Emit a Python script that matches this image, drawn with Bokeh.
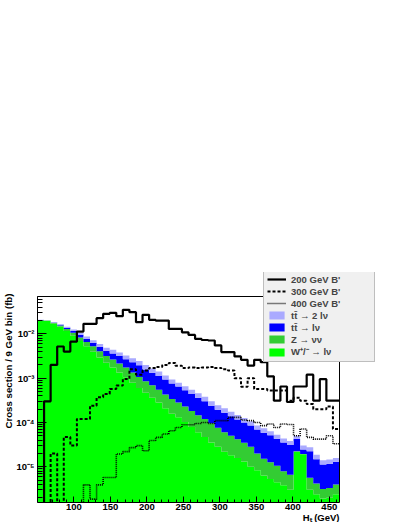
import math
import numpy as np
from bokeh.plotting import figure
from bokeh.models import (Range1d, FixedTicker, CustomJSTickFormatter, Legend,
                          LegendItem, Title)
from bokeh.embed import file_html
from bokeh.resources import INLINE

# ---------------- data ----------------
bin_low = 50.0
bin_width = 9.0          # GeV
n_bins = 46

# signal histograms (fb / 9 GeV bin)
sig_200 = [0, 3.0e-4, 2.0e-3, 5.2e-3, 4.0e-3, 6.7e-3, 1.13e-2, 1.69e-2, 1.69e-2, 2.27e-2,
           2.84e-2, 3.0e-2, 2.52e-2, 3.5e-2, 3.1e-2, 1.84e-2, 2.7e-2, 2.08e-2, 2.0e-2, 2.0e-2,
           1.30e-2, 1.30e-2, 1.09e-2, 9.5e-3, 7.7e-3, 7.3e-3, 7.1e-3, 5.5e-3, 3.9e-3, 3.9e-3,
           3.1e-3, 2.6e-3, 1.93e-3, 2.6e-3, 2.3e-3, 1.1e-3, 3.1e-4, 6.5e-4, 2.9e-4, 6.5e-4,
           6.5e-4, 1.2e-3, 3.1e-4, 9.5e-4, 3.1e-4, 3.1e-4]
sig_300 = [0, 0, 2.0e-5, 0, 4.7e-5, 3.0e-5, 1.2e-4, 1.2e-4, 2.4e-4, 3.7e-4,
           4.4e-4, 5.7e-4, 6.8e-4, 9.6e-4, 1.6e-3, 1.2e-3, 1.5e-3, 1.7e-3, 1.8e-3, 2.0e-3,
           2.2e-3, 1.9e-3, 1.7e-3, 1.75e-3, 1.7e-3, 1.75e-3, 1.8e-3, 1.7e-3, 1.6e-3, 1.5e-3,
           1.0e-3, 6.4e-4, 1.0e-3, 5.7e-4, 5.7e-4, 5.3e-4, 5.3e-4, 5.3e-4, 3.1e-4, 3.6e-4,
           3.1e-4, 2.6e-4, 2.0e-4, 2.0e-4, 2.3e-4, 7.1e-5]
sig_400 = [0, 0, 0, 0, 0, 0, 0, 3.9e-6, 1.85e-6, 3.9e-6,
           5.7e-6, 5.7e-6, 1.94e-5, 2.2e-5, 2.7e-5, 3.0e-5, 2.3e-5, 3.9e-5, 4.6e-5, 5.5e-5,
           6.5e-5, 7.7e-5, 8.9e-5, 8.9e-5, 9.5e-5, 1.0e-4, 9.5e-5, 1.1e-4, 1.1e-4, 1.3e-4,
           1.3e-4, 1.14e-4, 1.1e-4, 1.0e-4, 8.5e-5, 9.2e-5, 7.7e-5, 9.2e-5, 9.0e-5, 5.0e-5,
           7.1e-5, 4.6e-5, 4.2e-5, 4.2e-5, 5.0e-5, 3.3e-5]

# stacked backgrounds: cumulative height of the stack after each component
stack_top_w = [2.00e-2, 1.95e-2, 1.70e-2, 1.45e-2, 1.17e-2, 9.12e-3, 6.92e-3, 5.25e-3, 3.98e-3, 2.95e-3,
               2.24e-3, 1.74e-3, 1.35e-3, 1.05e-3, 7.94e-4, 6.03e-4, 4.68e-4, 3.63e-4, 2.82e-4, 2.09e-4,
               1.58e-4, 1.32e-4, 1.02e-4, 7.94e-5, 6.03e-5, 4.68e-5, 3.55e-5, 2.82e-5, 2.19e-5, 1.82e-5,
               1.58e-5, 1.32e-5, 1.00e-5, 8.32e-6, 6.31e-6, 5.25e-6, 4.47e-6, 3.80e-6, 3.02e-6, 2.19e-5,
               1.91e-5, 3.02e-6, 2.40e-6, 1.91e-6, 2.00e-6, 2.40e-6]
stack_top_z = [2.04e-2, 2.00e-2, 1.78e-2, 1.55e-2, 1.29e-2, 1.07e-2, 8.32e-3, 6.61e-3, 5.25e-3, 4.07e-3,
               3.16e-3, 2.63e-3, 2.14e-3, 1.74e-3, 1.35e-3, 1.07e-3, 8.51e-4, 6.92e-4, 5.50e-4, 4.27e-4,
               3.39e-4, 2.82e-4, 2.29e-4, 1.82e-4, 1.45e-4, 1.20e-4, 9.55e-5, 7.59e-5, 6.03e-5, 5.01e-5,
               4.17e-5, 3.47e-5, 2.82e-5, 2.00e-5, 1.51e-5, 1.26e-5, 1.05e-5, 7.94e-6, 6.61e-6, 2.24e-5,
               1.95e-5, 5.62e-6, 4.17e-6, 3.16e-6, 3.31e-6, 3.98e-6]
stack_top_tt_lnu = [2.07e-2, 2.02e-2, 1.82e-2, 1.62e-2, 1.38e-2, 1.17e-2, 9.55e-3, 7.76e-3, 6.31e-3, 5.13e-3,
                    4.17e-3, 3.63e-3, 3.16e-3, 2.69e-3, 2.29e-3, 1.95e-3, 1.58e-3, 1.32e-3, 1.12e-3, 9.33e-4,
                    7.59e-4, 6.46e-4, 5.37e-4, 4.37e-4, 3.63e-4, 3.02e-4, 2.40e-4, 1.95e-4, 1.66e-4, 1.38e-4,
                    1.17e-4, 1.00e-4, 8.51e-5, 6.92e-5, 5.89e-5, 5.13e-5, 4.27e-5, 3.55e-5, 3.09e-5, 4.27e-5,
                    2.45e-5, 2.24e-5, 1.48e-5, 1.12e-5, 1.17e-5, 1.29e-5]
stack_top_tt_2lnu = [2.09e-2, 2.04e-2, 1.86e-2, 1.66e-2, 1.45e-2, 1.26e-2, 1.05e-2, 8.71e-3, 7.24e-3, 5.89e-3,
                     4.90e-3, 4.37e-3, 3.80e-3, 3.24e-3, 2.82e-3, 2.45e-3, 2.00e-3, 1.66e-3, 1.41e-3, 1.15e-3,
                     9.33e-4, 7.94e-4, 6.61e-4, 5.50e-4, 4.57e-4, 3.80e-4, 3.02e-4, 2.45e-4, 2.09e-4, 1.74e-4,
                     1.48e-4, 1.26e-4, 1.07e-4, 8.51e-5, 7.41e-5, 6.31e-5, 5.25e-5, 4.37e-5, 3.80e-5, 5.01e-5,
                     3.02e-5, 2.75e-5, 1.86e-5, 1.41e-5, 1.45e-5, 1.58e-5]

signal_labels = ["200 GeV B'", "300 GeV B'", "400 GeV B'"]
bkg_labels = ["t\u0074\u0304 \u2192 2 l\u03bd", "t\u0074\u0304 \u2192 l\u03bd",
              "Z \u2192 \u03bd\u03bd", "W\u207a/\u207b \u2192 l\u03bd"]
x_title = "H\u209c (GeV)"
y_title = "Cross section / 9 GeV bin (fb)"

x_major = [100, 150, 200, 250, 300, 350, 400, 450]
x_minor = [60, 70, 80, 90, 110, 120, 130, 140, 160, 170, 180, 190, 210, 220, 230, 240,
           260, 270, 280, 290, 310, 320, 330, 340, 360, 370, 380, 390, 410, 420, 430, 440, 460]
y_major = [1e-5, 1e-4, 1e-3, 1e-2]
y_minor = [2e-6, 3e-6, 4e-6, 5e-6, 6e-6, 7e-6, 8e-6, 9e-6,
           2e-5, 3e-5, 4e-5, 5e-5, 6e-5, 7e-5, 8e-5, 9e-5,
           2e-4, 3e-4, 4e-4, 5e-4, 6e-4, 7e-4, 8e-4, 9e-4,
           2e-3, 3e-3, 4e-3, 5e-3, 6e-3, 7e-3, 8e-3, 9e-3,
           2e-2, 3e-2, 4e-2, 5e-2, 6e-2, 7e-2]

# ---------------- layout geometry ----------------
x_min, x_max = 50.0, 464.0          # histogram region (the drawn frame box)
y_min, y_max = 1.556e-6, 0.0701
box_w, box_h = 302, 206             # pixel size of the drawn frame box
extra_right, extra_top = 37, 24     # room inside the canvas frame for the legend
px_per_x = box_w / (x_max - x_min)
dec_per_px = (math.log10(y_max) - math.log10(y_min)) / box_h
x_end = x_max + extra_right / px_per_x
y_end = 10 ** (math.log10(y_max) + extra_top * dec_per_px)
floor = 1e-9

edges = bin_low + bin_width * np.arange(n_bins + 1)

FONT = "Liberation Sans"

p = figure(x_range=Range1d(x_min, x_end), y_range=Range1d(y_min, y_end),
           y_axis_type="log", output_backend="svg", toolbar_location=None,
           frame_width=box_w + extra_right, frame_height=box_h + extra_top,
           min_border_left=37, min_border_right=8, min_border_top=272, min_border_bottom=20,
           title=None)
p.background_fill_color = "white"
p.border_fill_color = "white"
p.outline_line_color = None
p.xgrid.visible = False
p.ygrid.visible = False

# stacked fills
levels = [stack_top_w, stack_top_z, stack_top_tt_lnu, stack_top_tt_2lnu]
colors = ["#00ff00", "#33cc33", "#0000ff", "#aaaaff"]
fill_r = []
prev = np.full(n_bins + 1, floor)
for lev, col in zip(levels, colors):
    top = np.append(np.asarray(lev, dtype=float), lev[-1])
    r = p.varea_step(x=edges, y1=prev, y2=top, step_mode="after", fill_color=col)
    fill_r.append(r)
    prev = top

# signal step lines
def step_y(vals):
    v = np.asarray(vals, dtype=float)
    v = np.where(v > 0, v, floor)
    return np.append(v, v[-1])

r400 = p.step(edges, step_y(sig_400), mode="after", line_color="black", line_width=1.6, line_dash="1 1")
r300 = p.step(edges, step_y(sig_300), mode="after", line_color="black", line_width=2.0, line_dash="3 2")
r200 = p.step(edges, step_y(sig_200), mode="after", line_color="black", line_width=2.2)
line_r = [r200, r300, r400]

# frame box (top and right edges; left/bottom are the axis lines)
p.quad(left=[x_min], right=[x_max], bottom=[y_min], top=[y_max],
       fill_color=None, line_color="black", line_width=1)

# axes
p.xaxis.ticker = FixedTicker(ticks=x_major, minor_ticks=x_minor)
p.yaxis.ticker = FixedTicker(ticks=y_major, minor_ticks=y_minor)
p.xaxis.bounds = (x_min, x_max)
p.yaxis.bounds = (y_min, y_max)
p.yaxis.formatter = CustomJSTickFormatter(code="""
const e = Math.round(Math.log10(tick));
const sup = {"-":"\u207b","0":"\u2070","1":"\u00b9","2":"\u00b2","3":"\u00b3","4":"\u2074",
             "5":"\u2075","6":"\u2076","7":"\u2077","8":"\u2078","9":"\u2079"};
return "10" + String(e).split("").map(c => sup[c]).join("");
""")
for ax in (p.xaxis[0], p.yaxis[0]):
    ax.axis_line_color = "black"
    ax.axis_line_width = 1
    ax.major_tick_line_color = "black"
    ax.minor_tick_line_color = "black"
    ax.major_tick_out = 0
    ax.minor_tick_out = 0
    ax.major_label_text_font = FONT
    ax.major_label_text_font_style = "bold"
    ax.major_label_text_font_size = "9.5px"
    ax.major_label_text_color = "black"
p.xaxis.major_tick_in = 6
p.xaxis.minor_tick_in = 3
p.xaxis.major_label_standoff = 1
p.yaxis.major_tick_in = 9
p.yaxis.minor_tick_in = 5
p.yaxis.major_label_standoff = 3

# axis titles (ROOT style: aligned to the top / right end of the axes;
# a positive offset moves the title inwards from that end)
p.add_layout(Title(text=y_title, align="right", offset=21, standoff=0,
                   text_font=FONT, text_font_style="bold", text_font_size="9.7px",
                   text_color="black"), "left")
p.add_layout(Title(text=x_title, align="right", offset=extra_right, standoff=-5,
                   text_font=FONT, text_font_style="bold", text_font_size="9.5px",
                   text_color="black"), "below")

# legend
items = [LegendItem(label=lab, renderers=[r]) for lab, r in zip(signal_labels, line_r)]
items += [LegendItem(label=lab, renderers=[r])
          for lab, r in zip(bkg_labels, [fill_r[3], fill_r[2], fill_r[1], fill_r[0]])]
legend = Legend(items=items, location=(226, 140), orientation="vertical",
                glyph_width=19, glyph_height=10, label_height=12, label_width=80,
                label_standoff=5, spacing=0, padding=3, margin=0,
                label_text_font=FONT, label_text_font_style="bold",
                label_text_font_size="9.5px", label_text_baseline="middle",
                background_fill_color="#f0f0f0", background_fill_alpha=1.0,
                border_line_color="#8c8c8c", border_line_width=1)
p.add_layout(legend, "center")

open("out.html", "w").write(file_html(p, INLINE))
